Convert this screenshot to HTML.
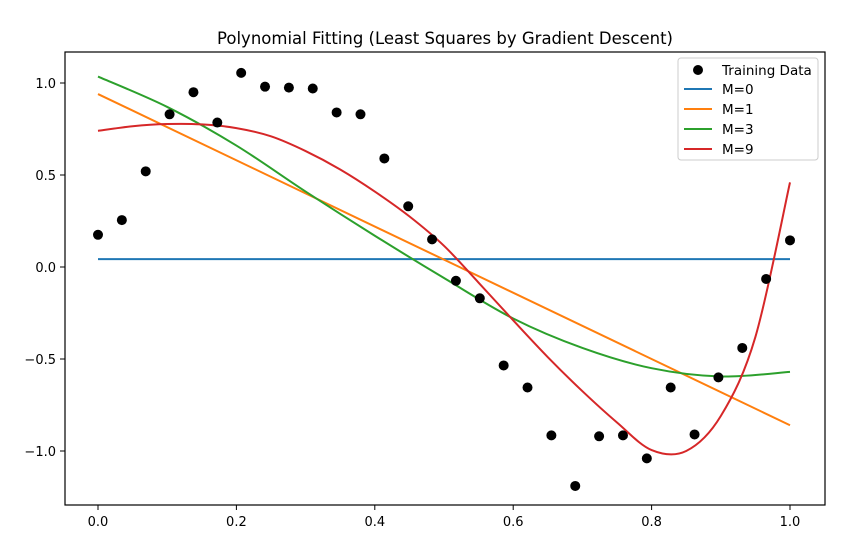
<!DOCTYPE html>
<html><head><meta charset="utf-8"><style>
body{margin:0;background:#fff;font-family:"DejaVu Sans","Liberation Sans",sans-serif;}
svg text{font-family:"DejaVu Sans","Liberation Sans",sans-serif;}
</style></head><body>
<svg id="chart" width="865" height="539" xmlns="http://www.w3.org/2000/svg">
<rect width="865" height="539" fill="#fff"/>
<text x="445" y="44" text-anchor="middle" font-size="16.5">Polynomial Fitting (Least Squares by Gradient Descent)</text>
<g id="grid"></g>
<g id="series"></g>
<rect x="65" y="52" width="760" height="453" fill="none" stroke="#000" stroke-width="1.2"/>
<g>
<rect x="678" y="58" width="140" height="102" rx="3" fill="#fff" fill-opacity="0.85" stroke="#ccc"/>
<circle cx="698" cy="70" r="5" fill="#000"/>
<text x="722" y="75" font-size="13.5">Training Data</text>
<line x1="684" y1="89" x2="712" y2="89" stroke="#1f77b4" stroke-width="2"/>
<text x="722" y="94" font-size="13.5">M=0</text>
<line x1="684" y1="109" x2="712" y2="109" stroke="#ff7f0e" stroke-width="2"/>
<text x="722" y="114" font-size="13.5">M=1</text>
<line x1="684" y1="129" x2="712" y2="129" stroke="#2ca02c" stroke-width="2"/>
<text x="722" y="134" font-size="13.5">M=3</text>
<line x1="684" y1="149" x2="712" y2="149" stroke="#d62728" stroke-width="2"/>
<text x="722" y="154" font-size="13.5">M=9</text>
</g>
</svg>
<script>
const trainY=[0.175,0.255,0.52,0.83,0.95,0.785,1.055,0.98,0.975,0.97,0.84,0.83,0.59,0.33,0.15,-0.075,-0.17,-0.535,-0.655,-0.915,-1.19,-0.92,-0.915,-1.04,-0.655,-0.91,-0.6,-0.44,-0.065,0.145];
const m0X=[0,1], m0Y=[0.043,0.043];
const m1X=[0,1], m1Y=[0.94,-0.86];
const m3X=[0,0.1,0.2,0.3,0.4,0.5,0.6,0.7,0.8,0.9,1.0];
const m3Y=[1.035,0.87,0.66,0.41,0.17,-0.06,-0.28,-0.44,-0.55,-0.595,-0.57];
const m9X=[0,0.05,0.1,0.15,0.2,0.25,0.3,0.35,0.4,0.45,0.5,0.55,0.6,0.65,0.7,0.75,0.8,0.85,0.9,0.95,1.0];
const m9Y=[0.74,0.765,0.777,0.775,0.755,0.71,0.63,0.53,0.41,0.275,0.115,-0.085,-0.29,-0.49,-0.675,-0.845,-0.995,-1.0,-0.81,-0.38,0.46];
const xTicks=[0,0.2,0.4,0.6,0.8,1.0], xLabels=["0.0","0.2","0.4","0.6","0.8","1.0"];
const yTicks=[1,0.5,0,-0.5,-1], yLabels=["1.0","0.5","0.0","\u22120.5","\u22121.0"];
const NS="http://www.w3.org/2000/svg";
const sx=v=>98+v*692, sy=v=>267-v*184;
const grid=document.getElementById('grid'), ser=document.getElementById('series');
function mk(t,a,p){const e=document.createElementNS(NS,t);for(const k in a)e.setAttribute(k,a[k]);p.appendChild(e);return e;}
xTicks.forEach((t,i)=>{
 const l=mk('line',{x1:sx(t),x2:sx(t),y1:505,y2:510,stroke:'#000'},grid);
 
 
 const tx=mk('text',{x:sx(t),y:526,'text-anchor':'middle','font-size':'13'},grid);tx.textContent=xLabels[i];
 
 
});
yTicks.forEach((t,i)=>{
 const l=mk('line',{x1:60,x2:65,y1:sy(t),y2:sy(t),stroke:'#000'},grid);
 
 
 const tx=mk('text',{x:56,y:sy(t)+5,'text-anchor':'end','font-size':'13'},grid);tx.textContent=yLabels[i];
 
 
});
function path(xs,ys){
 const P=xs.map((x,i)=>[sx(x),sy(ys[i])]);
 let d='M'+P[0][0]+','+P[0][1];
 for(let i=0;i<P.length-1;i++){
  const p0=P[Math.max(0,i-1)],p1=P[i],p2=P[i+1],p3=P[Math.min(P.length-1,i+2)];
  const c1=[p1[0]+(p2[0]-p0[0])/6,p1[1]+(p2[1]-p0[1])/6],c2=[p2[0]-(p3[0]-p1[0])/6,p2[1]-(p3[1]-p1[1])/6];
  d+=` C${c1[0]},${c1[1]} ${c2[0]},${c2[1]} ${p2[0]},${p2[1]}`;
 }
 return d;
}
const series=[[m0X,m0Y,'#1f77b4','line-m0'],[m1X,m1Y,'#ff7f0e','line-m1'],[m3X,m3Y,'#2ca02c','line-m3'],[m9X,m9Y,'#d62728','line-m9']];
series.forEach(s=>{
 const p=mk('path',{d:path(s[0],s[1]),fill:'none',stroke:s[2],'stroke-width':2},ser);
 
 
});
trainY.forEach((y,i)=>{
 const c=mk('circle',{cx:sx(i/(trainY.length-1)),cy:sy(y),r:5,fill:'#000'},ser);
 
 
});
</script>
</body></html>
